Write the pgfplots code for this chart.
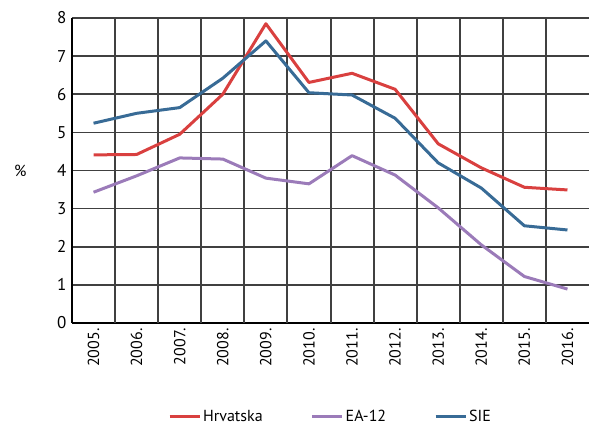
\documentclass[border=0pt]{standalone}
\usepackage{pgfplots}
\pgfplotsset{compat=1.18}
\usepackage{fontspec}
\setmainfont{PT Sans}
\definecolor{hrred}{HTML}{D9403F}
\definecolor{eapurple}{HTML}{9B7BB9}
\definecolor{sieblue}{HTML}{386B96}
\begin{document}
\fontsize{16bp}{19bp}\selectfont
\begin{tikzpicture}
\begin{axis}[
    name=ax,
    scale only axis,
    width=517bp, height=305bp,
    xmin=-0.5, xmax=11.5,
    ymin=0, ymax=8,
    axis lines=left,
    axis line style={black, line width=1.6bp, -},
    xtick={0,1,2,3,4,5,6,7,8,9,10,11},
    xticklabels={2005.,2006.,2007.,2008.,2009.,2010.,2011.,2012.,2013.,2014.,2015.,2016.},
    xticklabel style={rotate=90, anchor=east, font=\fontsize{16bp}{19bp}\selectfont},
    ytick={0,...,8},
    yticklabel style={font=\fontsize{17bp}{20bp}\selectfont},
    /pgf/number format/assume math mode=true,
    major tick length=0pt,
    xmajorgrids=false,
    ymajorgrids=true,
    grid style={draw=black!75, line width=1.6bp},
    ylabel={\%},
    ylabel style={rotate=-90, at={(axis description cs:-0.10,0.5)}, anchor=center, font=\fontsize{16bp}{19bp}\selectfont},
    legend columns=3,
    legend style={at={(0.5,-0.308)}, anchor=center, draw=none, fill=none,
        font=\fontsize{16bp}{19bp}\selectfont,
        /tikz/every even column/.append style={column sep=46bp}},
    legend image code/.code={\draw[#1, line width=3bp] (0bp,0bp) -- (30bp,0bp);},
    every axis plot/.append style={line width=3bp, line join=round, mark=none},
]
% vertical separators between the year columns
\pgfplotsinvokeforeach{0.5,1.5,2.5,3.5,4.5,5.5,6.5,7.5,8.5,9.5,10.5}{
    \draw[black!75, line width=2bp] (axis cs:#1,0) -- (axis cs:#1,8);
}
\addplot[hrred] coordinates {
    (0,4.41) (1,4.42) (2,4.95) (3,6.0) (4,7.85) (5,6.31) (6,6.55) (7,6.13) (8,4.70) (9,4.07) (10,3.56) (11,3.49)
};
\addlegendentry{Hrvatska}
\addplot[eapurple] coordinates {
    (0,3.43) (1,3.86) (2,4.33) (3,4.30) (4,3.80) (5,3.65) (6,4.39) (7,3.88) (8,3.02) (9,2.05) (10,1.22) (11,0.89)
};
\addlegendentry{EA-12}
\addplot[sieblue] coordinates {
    (0,5.24) (1,5.50) (2,5.65) (3,6.42) (4,7.40) (5,6.04) (6,5.98) (7,5.37) (8,4.20) (9,3.54) (10,2.55) (11,2.44)
};
\addlegendentry{SIE}
\end{axis}
\pgfresetboundingbox
\path (ax.south west) ++(-72bp,-103bp) coordinate (bl);
\path (ax.north east) ++(0bp,18bp) coordinate (tr);
\path[use as bounding box] (bl) rectangle (tr);
\end{tikzpicture}
\end{document}
